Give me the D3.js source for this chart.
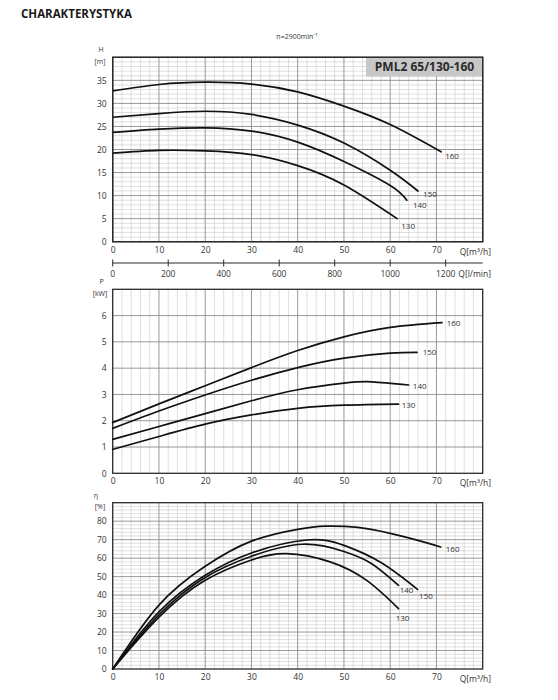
<!DOCTYPE html>
<html><head><meta charset="utf-8">
<script src="https://cdn.jsdelivr.net/npm/d3@7"></script>
<style>body{margin:0;background:#fff}svg text{font-family:"Open Sans",sans-serif}</style>
</head><body><svg id="c" width="558" height="700"></svg>
<script>
// ---------- data ----------
const sizes = ["130", "140", "150", "160"];
const qTicks = [0, 10, 20, 30, 40, 50, 60, 70];
const lminTicks = [0, 200, 400, 600, 800, 1000, 1200];
const headTicks = [0, 5, 10, 15, 20, 25, 30, 35];
const powerTicks = [0, 1, 2, 3, 4, 5, 6];
const effTicks = [0, 10, 20, 30, 40, 50, 60, 70, 80];

const head130 = [[0,19.2],[10,19.8],[20,19.7],[30,18.9],[40,16.5],[50,12.3],[61.5,5.0]];
const head140 = [[0,23.7],[10,24.4],[20,24.7],[30,24.0],[40,21.6],[50,17.4],[60,12.2],[63.6,9.0]];
const head150 = [[0,27.0],[10,27.8],[20,28.3],[30,27.6],[40,25.3],[50,21.4],[60,15.5],[66,11.0]];
const head160 = [[0,32.7],[10,34.1],[20,34.6],[30,34.2],[40,32.5],[50,29.4],[60,25.4],[71,19.5]];

const power130 = [[0,0.91],[10,1.40],[20,1.87],[30,2.22],[40,2.47],[50,2.59],[61.8,2.63]];
const power140 = [[0,1.29],[10,1.78],[20,2.27],[30,2.76],[40,3.18],[50,3.43],[56,3.48],[64,3.36]];
const power150 = [[0,1.71],[10,2.37],[20,2.98],[30,3.54],[40,4.02],[50,4.38],[60,4.57],[65.8,4.60]];
const power160 = [[0,1.93],[10,2.64],[20,3.33],[30,4.02],[40,4.67],[50,5.19],[60,5.55],[71.2,5.73]];

const eff130 = [[0,0],[10,28],[20,48],[30,59.0],[37.5,62.4],[47,58.0],[55,47.8],[61.8,32.7]];
const eff140 = [[0,0],[10,29.3],[20,49.5],[30,61.0],[41,67.5],[50,63.6],[56,57.0],[61.8,45.3]];
const eff150 = [[0,0],[10,30.9],[20,50.7],[30,62.8],[42,69.8],[50,66.9],[58,57.6],[65.9,43.1]];
const eff160 = [[0,0],[10,34.6],[20,55.6],[30,69.2],[40,75.6],[46,77.3],[53,76.6],[60,73.4],[66,69.6],[70.9,66.0]];

// ---------- drawing ----------
const svg = d3.select("#c");
svg.append("rect").attr("width",558).attr("height",700).attr("fill","#fff");

const X0 = 112.7, X1 = 482.7;
const x = d3.scaleLinear().domain([0, 80]).range([X0, X1]);
const xl = d3.scaleLinear().domain([0, 80 * 1000 / 60]).range([X0, X1]);

svg.append("text").attr("x", 21).attr("y", 18).attr("font-size", 11.5)
  .attr("font-weight", "bold").attr("fill", "#1a1a1a").text("CHARAKTERYSTYKA");
svg.append("text").attr("x", 297).attr("y", 38.5).attr("font-size", 7)
  .attr("text-anchor", "middle").attr("fill", "#333").text("n=2900min⁻¹");

function panel(opt) {
  const y = d3.scaleLinear().domain([0, opt.ymax]).range([opt.bottom, opt.top]);
  const g = svg.append("g");
  // minor vertical
  g.selectAll(null).data(d3.range(2, 80, 2).filter(v => v % 10 !== 0)).join("line")
    .attr("x1", d => x(d)).attr("x2", d => x(d)).attr("y1", opt.top).attr("y2", opt.bottom)
    .attr("stroke", "#c9c9c9").attr("stroke-width", 0.6);
  if (opt.yMinor) {
    g.selectAll(null).data(d3.range(opt.yMinor, opt.ymax, opt.yMinor).filter(v => Math.abs(v / opt.yMajor - Math.round(v / opt.yMajor)) > 1e-6)).join("line")
      .attr("x1", X0).attr("x2", X1).attr("y1", d => y(d)).attr("y2", d => y(d))
      .attr("stroke", "#c9c9c9").attr("stroke-width", 0.6);
  }
  // major grid
  g.selectAll(null).data(d3.range(10, 80, 10)).join("line")
    .attr("x1", d => x(d)).attr("x2", d => x(d)).attr("y1", opt.top).attr("y2", opt.bottom)
    .attr("stroke", "#8c8c8c").attr("stroke-width", 0.9);
  g.selectAll(null).data(d3.range(opt.yMajor, opt.ymax, opt.yMajor)).join("line")
    .attr("x1", X0).attr("x2", X1).attr("y1", d => y(d)).attr("y2", d => y(d))
    .attr("stroke", "#8c8c8c").attr("stroke-width", 0.9);
  // frame
  g.append("rect").attr("x", X0).attr("y", opt.top).attr("width", X1 - X0).attr("height", opt.bottom - opt.top)
    .attr("fill", "none").attr("stroke", "#2a2a2a").attr("stroke-width", 1.3);

  // y axis labels
  const ya = g.append("g").attr("transform", `translate(${X0 - 6},0)`)
    .call(d3.axisLeft(y).tickValues(opt.yTicks).tickFormat(d3.format("d")).tickSize(0).tickPadding(0));
  ya.select(".domain").remove();
  ya.selectAll("text").attr("font-size", 8.5).attr("fill", "#333").attr("font-family", "Open Sans, sans-serif");
  // x axis labels
  const xa = g.append("g").attr("transform", `translate(0,${opt.bottom + 5})`)
    .call(d3.axisBottom(x).tickValues(qTicks).tickFormat(d3.format("d")).tickSize(0).tickPadding(0));
  xa.select(".domain").remove();
  xa.selectAll("text").attr("font-size", 8.5).attr("fill", "#333").attr("font-family", "Open Sans, sans-serif");
  g.append("text").attr("x", 491).attr("y", opt.bottom + 13).attr("text-anchor", "end")
    .attr("font-size", 8.5).attr("fill", "#333").text("Q[m³/h]");

  // axis name
  g.append("text").attr("x", opt.nameX).attr("y", opt.top - 5).attr("text-anchor", "middle")
    .attr("font-size", 7).attr("fill", "#333").text(opt.name);
  g.append("text").attr("x", 100).attr("y", opt.top + 6.5).attr("text-anchor", "middle")
    .attr("font-size", 7).attr("fill", "#333").text(opt.unit);

  // curves
  const line = d3.line().x(d => x(d[0])).y(d => y(d[1])).curve(d3.curveNatural);
  opt.series.forEach((s, i) => {
    g.append("path").attr("d", line(s)).attr("fill", "none")
      .attr("stroke", "#111").attr("stroke-width", 1.7).attr("stroke-linecap", "round");
    const last = s[s.length - 1];
    const off = opt.labelOff[i];
    g.append("text").attr("x", x(last[0]) + off[0]).attr("y", y(last[1]) + off[1] + 3)
      .attr("font-size", 8).attr("fill", "#333").attr("text-anchor", "middle").text(sizes[i]);
  });
  return g;
}

panel({
  top: 57.3, bottom: 241.7, ymax: 40, yMajor: 5, yMinor: 1, yTicks: headTicks,
  name: "H", nameX: 101, unit: "[m]",
  series: [head130, head140, head150, head160],
  labelOff: [[11, 7], [13, 5], [12, 3], [11, 4]]
});
panel({
  top: 289.3, bottom: 473.3, ymax: 7, yMajor: 1, yMinor: null, yTicks: powerTicks,
  name: "P", nameX: 101.5, unit: "[kW]",
  series: [power130, power140, power150, power160],
  labelOff: [[10, 1], [11, 1], [12.5, 0], [11.5, 0.5]]
});
panel({
  top: 502.7, bottom: 669, ymax: 90, yMajor: 10, yMinor: 2, yTicks: effTicks,
  name: "η", nameX: 96, unit: "[%]",
  series: [eff130, eff140, eff150, eff160],
  labelOff: [[4, 9.5], [8, 5], [8.5, 7], [12, 2]]
});

// model box
svg.append("rect").attr("x", 366).attr("y", 57.3).attr("width", X1 - 366).attr("height", 19.4)
  .attr("fill", "#c8c8c8");
svg.append("rect").attr("x", X0).attr("y", 57.3).attr("width", X1 - X0).attr("height", 241.7 - 57.3)
  .attr("fill", "none").attr("stroke", "#2a2a2a").attr("stroke-width", 1.3);
svg.append("text").attr("x", 424.5).attr("y", 70.8).attr("text-anchor", "middle")
  .attr("font-size", 12).attr("font-weight", "bold").attr("fill", "#2a2a2a").text("PML2 65/130-160");

// l/min secondary axis
const la = svg.append("g").attr("transform", "translate(0,263)");
la.append("line").attr("x1", X0).attr("x2", X1).attr("stroke", "#2a2a2a").attr("stroke-width", 1);
la.selectAll(null).data(lminTicks).join("line")
  .attr("x1", d => xl(d)).attr("x2", d => xl(d)).attr("y1", -3.5).attr("y2", 3.5)
  .attr("stroke", "#2a2a2a").attr("stroke-width", 1);
la.selectAll(null).data(lminTicks).join("text")
  .attr("x", d => xl(d)).attr("y", 13.5).attr("text-anchor", "middle")
  .attr("font-size", 8.5).attr("fill", "#333").text(d => d);
la.append("text").attr("x", 491).attr("y", 13.5).attr("text-anchor", "end")
  .attr("font-size", 8.5).attr("fill", "#333").text("Q[l/min]");
</script></body></html>
